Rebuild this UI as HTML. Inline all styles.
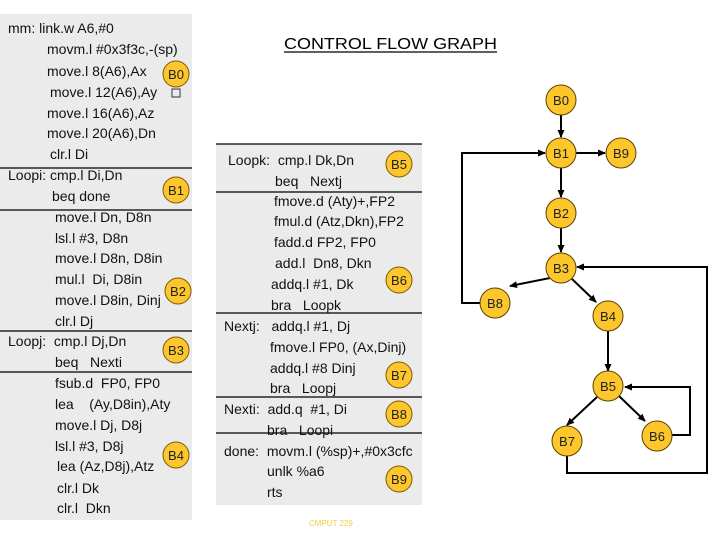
<!DOCTYPE html>
<html><head><style>
html,body{margin:0;padding:0;background:#fff;}
svg{display:block;}
text{font-family:"Liberation Sans",sans-serif;white-space:pre;}
</style></head><body>
<svg width="720" height="540" viewBox="0 0 720 540" xmlns="http://www.w3.org/2000/svg" xml:space="preserve">
<defs>
<marker id="ah" markerWidth="8" markerHeight="8" refX="7" refY="4" orient="auto" markerUnits="userSpaceOnUse">
<path d="M0,0.5 L8,4 L0,7.5 z" fill="#000"/>
</marker>
</defs>
<rect x="0" y="14" width="192" height="506" fill="#ebebeb"/>
<g stroke="#000" stroke-width="1.2">
<line x1="0" y1="168" x2="192" y2="168"/>
<line x1="0" y1="210" x2="192" y2="210"/>
<line x1="0" y1="331" x2="192" y2="331"/>
<line x1="0" y1="372" x2="192" y2="372"/>
</g>
<g font-size="14" fill="#111">
<text x="8" y="33">mm: link.w A6,#0</text>
<text x="47" y="54">movm.l #0x3f3c,-(sp)</text>
<text x="47" y="76">move.l 8(A6),Ax</text>
<text x="50" y="97">move.l 12(A6),Ay</text>
<text x="47" y="118">move.l 16(A6),Az</text>
<text x="47" y="138">move.l 20(A6),Dn</text>
<text x="50" y="159">clr.l Di</text>
<text x="8" y="180">Loopi: cmp.l Di,Dn</text>
<text x="52" y="201">beq done</text>
<text x="55" y="222">move.l Dn, D8n</text>
<text x="55" y="243">lsl.l #3, D8n</text>
<text x="55" y="263">move.l D8n, D8in</text>
<text x="55" y="284">mul.l  Di, D8in</text>
<text x="55" y="305">move.l D8in, Dinj</text>
<text x="55" y="326">clr.l Dj</text>
<text x="8" y="346">Loopj:  cmp.l Dj,Dn</text>
<text x="55" y="367">beq   Nexti</text>
<text x="55" y="388">fsub.d  FP0, FP0</text>
<text x="55" y="409">lea    (Ay,D8in),Aty</text>
<text x="55" y="430">move.l Dj, D8j</text>
<text x="55" y="451">lsl.l #3, D8j</text>
<text x="57" y="471">lea (Az,D8j),Atz</text>
<text x="57" y="493">clr.l Dk</text>
<text x="57" y="513">clr.l  Dkn</text>
</g>
<rect x="216" y="144" width="206" height="361" fill="#ebebeb"/>
<g stroke="#000" stroke-width="1.2">
<line x1="216" y1="144" x2="422" y2="144"/>
<line x1="216" y1="192" x2="422" y2="192"/>
<line x1="216" y1="313" x2="422" y2="313"/>
<line x1="216" y1="397" x2="422" y2="397"/>
<line x1="216" y1="433" x2="422" y2="433"/>
</g>
<g font-size="14" fill="#111">
<text x="228" y="165">Loopk:  cmp.l Dk,Dn</text>
<text x="275" y="186">beq   Nextj</text>
<text x="274" y="206">fmove.d (Aty)+,FP2</text>
<text x="274" y="226">fmul.d (Atz,Dkn),FP2</text>
<text x="274" y="247">fadd.d FP2, FP0</text>
<text x="275" y="268">add.l  Dn8, Dkn</text>
<text x="271" y="289">addq.l #1, Dk</text>
<text x="271" y="310">bra   Loopk</text>
<text x="224" y="331">Nextj:   addq.l #1, Dj</text>
<text x="270" y="352">fmove.l FP0, (Ax,Dinj)</text>
<text x="270" y="373">addq.l #8 Dinj</text>
<text x="270" y="393">bra   Loopj</text>
<text x="224" y="414">Nexti:  add.q  #1, Di</text>
<text x="267" y="435">bra   Loopi</text>
<text x="224" y="456">done:  movm.l (%sp)+,#0x3cfc</text>
<text x="267" y="476">unlk %a6</text>
<text x="267" y="497">rts</text>
</g>
<text x="284" y="49" font-size="16" fill="#000" textLength="213" lengthAdjust="spacingAndGlyphs">CONTROL FLOW GRAPH</text>
<line x1="284" y1="52" x2="497" y2="52" stroke="#000" stroke-width="1.2"/>
<text x="309" y="526" font-size="8" fill="#f0d040">CMPUT 229</text>
<g fill="#fcc62c" stroke="#7a5a00" stroke-width="1">
<circle cx="176" cy="74" r="13"/>
<circle cx="176" cy="190" r="13"/>
<circle cx="178" cy="291" r="13"/>
<circle cx="176" cy="350" r="13"/>
<circle cx="176" cy="455" r="13"/>
<circle cx="399" cy="164" r="13"/>
<circle cx="399" cy="280" r="13"/>
<circle cx="399" cy="375" r="13"/>
<circle cx="399" cy="414" r="13"/>
<circle cx="399" cy="479" r="13"/>
</g>
<rect x="172" y="89" width="8" height="8" fill="none" stroke="#333" stroke-width="1"/>
<g font-size="13" fill="#222" text-anchor="middle">
<text x="176" y="79">B0</text>
<text x="176" y="195">B1</text>
<text x="178" y="296">B2</text>
<text x="176" y="355">B3</text>
<text x="176" y="460">B4</text>
<text x="399" y="169">B5</text>
<text x="399" y="285">B6</text>
<text x="399" y="380">B7</text>
<text x="399" y="419">B8</text>
<text x="399" y="484">B9</text>
</g>
<g stroke="#000" stroke-width="2" fill="none" marker-end="url(#ah)">
<line x1="561" y1="115" x2="561" y2="137"/>
<line x1="576" y1="153" x2="605" y2="153"/>
<line x1="561" y1="168" x2="561" y2="197"/>
<line x1="561" y1="228" x2="561" y2="252"/>
<line x1="550" y1="278" x2="510" y2="286"/>
<line x1="572" y1="279" x2="596" y2="302"/>
<line x1="608" y1="331" x2="608" y2="371"/>
<line x1="597" y1="397" x2="567" y2="425"/>
<line x1="619" y1="396" x2="645" y2="421"/>
<polyline points="480,303 462,303 462,153 545,153"/>
<polyline points="672,435 690,435 690,387 625,387"/>
<polyline points="567,456 567,473 707,473 707,267 577,267"/>
</g>
<g fill="#fcc62c" stroke="#5a4200" stroke-width="1">
<circle cx="561" cy="100" r="15"/>
<circle cx="561" cy="153" r="15"/>
<circle cx="621" cy="153" r="15"/>
<circle cx="561" cy="213" r="15"/>
<circle cx="561" cy="268" r="15"/>
<circle cx="495" cy="303" r="15"/>
<circle cx="608" cy="316" r="15"/>
<circle cx="608" cy="386" r="15"/>
<circle cx="657" cy="436" r="15"/>
<circle cx="567" cy="441" r="15"/>
</g>
<g font-size="13" fill="#222" text-anchor="middle">
<text x="561" y="105">B0</text>
<text x="561" y="158">B1</text>
<text x="621" y="158">B9</text>
<text x="561" y="218">B2</text>
<text x="561" y="273">B3</text>
<text x="495" y="308">B8</text>
<text x="608" y="321">B4</text>
<text x="608" y="391">B5</text>
<text x="657" y="441">B6</text>
<text x="567" y="446">B7</text>
</g>
</svg>
</body></html>
